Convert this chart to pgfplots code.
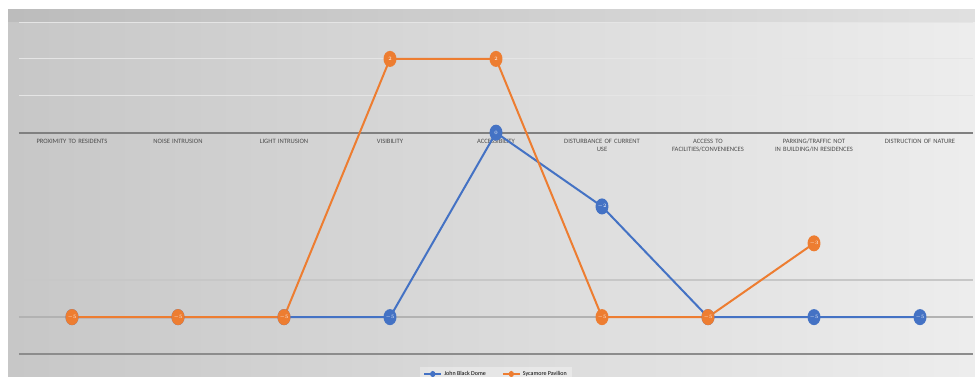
\documentclass[border=0pt]{standalone}
\usepackage{pgfplots}
\pgfplotsset{compat=1.18}
\usepackage{fontspec}
\setmainfont{Carlito}
\definecolor{cblue}{HTML}{4472C4}
\definecolor{corange}{HTML}{ED7D31}
\begin{document}
\begin{tikzpicture}[x=1pt,y=1pt]
\clip (0,0) rectangle (975,376);
\fill[white] (0,0) rectangle (975,376);
\shade[left color=black!22, right color=black!7] (8,0) rectangle (975,367);
\fill[black, opacity=0.05] (8,354) rectangle (975,367);
\begin{axis}[
  at={(19pt,22pt)}, anchor=south west,
  scale only axis, width=954pt, height=332pt,
  xmin=-0.5, xmax=8.5, ymin=-6, ymax=3,
  clip=false,
  axis x line=middle, axis y line=none,
  axis line style={-, black!50, line width=1.8pt},
  xtick={0,...,8},
  xticklabels={PROXIMITY TO RESIDENTS, NOISE INTRUSION, LIGHT INTRUSION, VISIBILITY, ACCESSIBILITY, DISTURBANCE OF CURRENT\\USE, ACCESS TO\\FACILITIES/CONVENIENCES, PARKING/TRAFFIC NOT\\IN BUILDING/IN RESIDENCES, DISTRUCTION OF NATURE},
  major tick length=0pt,
  x tick label style={font=\fontsize{6.6}{7.8}\selectfont, text=black!70, align=center, text width=104pt, anchor=north, yshift=-3pt},
  ytick=\empty,
  legend columns=2,
  legend style={at={(0.5,0)}, anchor=north, yshift=-13pt, draw=none, fill=white, fill opacity=0.35, text opacity=1, font=\fontsize{6}{7}\selectfont, /tikz/every even column/.append style={column sep=14pt}},
  legend image post style={mark size=2pt, xscale=1},
]
\draw[black!10, line width=1pt] (axis cs:-0.5,3) -- (axis cs:8.5,3);
\draw[black!10, line width=1pt] (axis cs:-0.5,2) -- (axis cs:8.5,2);
\draw[black!10, line width=1pt] (axis cs:-0.5,1) -- (axis cs:8.5,1);
\draw[black!22, line width=1.5pt] (axis cs:-0.5,-4) -- (axis cs:8.5,-4);
\draw[black!30, line width=1.5pt] (axis cs:-0.5,-5) -- (axis cs:8.5,-5);
\draw[black!45, line width=1.5pt] (axis cs:-0.5,-6) -- (axis cs:8.5,-6);
\addplot[cblue, line width=2pt, mark=*, mark size=7pt, mark options={fill=cblue, draw=cblue, xscale=0.78},
  nodes near coords, every node near coord/.append style={anchor=center, text=white, font=\fontsize{5}{5}\selectfont}]
  coordinates {(0,-5) (1,-5) (2,-5) (3,-5) (4,0) (5,-2) (6,-5) (7,-5) (8,-5)};
\addlegendentry{John Black Dome}
\addplot[corange, line width=2pt, mark=*, mark size=7pt, mark options={fill=corange, draw=corange, xscale=0.78},
  nodes near coords, every node near coord/.append style={anchor=center, text=white, font=\fontsize{5}{5}\selectfont}]
  coordinates {(0,-5) (1,-5) (2,-5) (3,2) (4,2) (5,-5) (6,-5) (7,-3)};
\addlegendentry{Sycamore Pavilion}
\end{axis}
\end{tikzpicture}
\end{document}
